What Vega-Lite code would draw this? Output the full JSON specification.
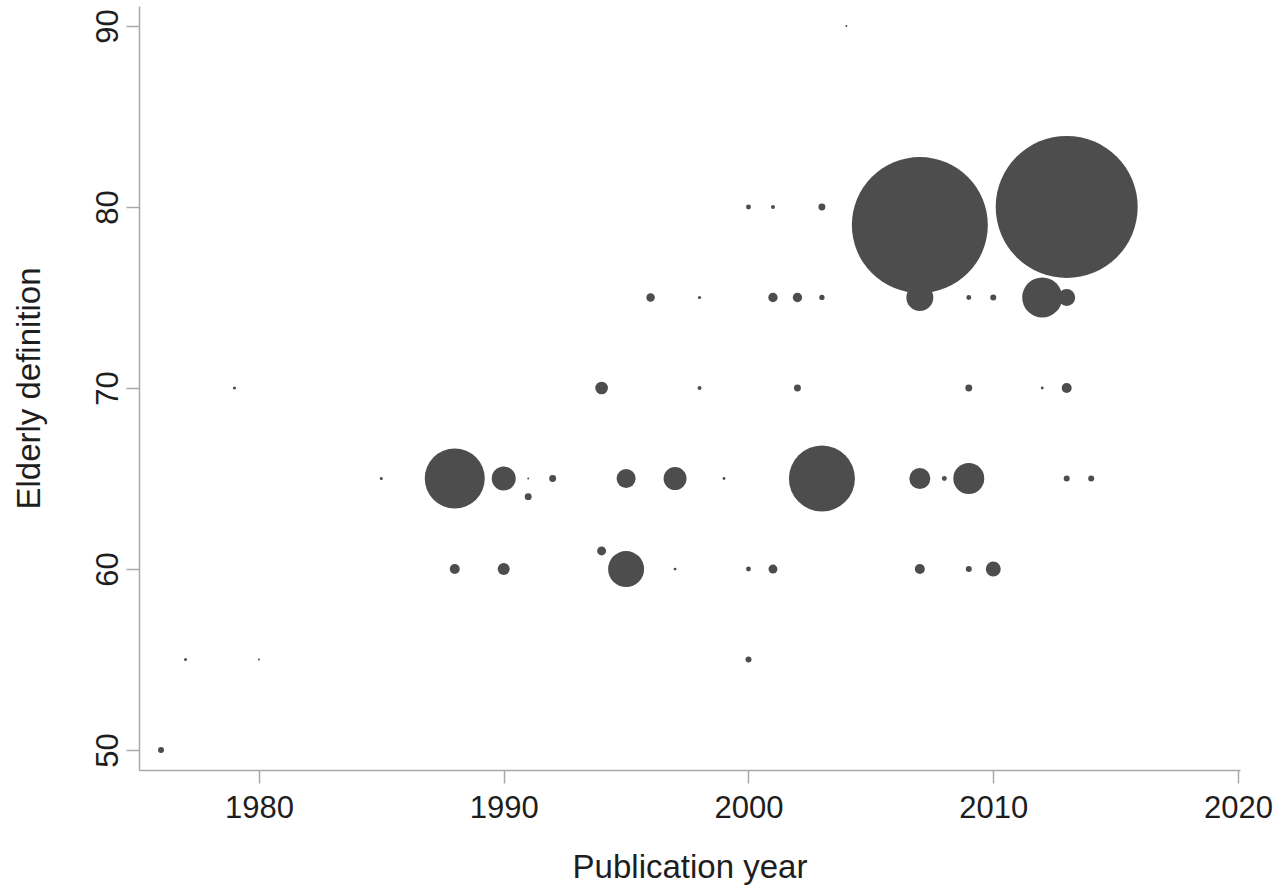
{
  "$schema": "https://vega.github.io/schema/vega-lite/v6.json",
  "autosize": {"type": "none"},
  "width": 1101,
  "height": 764,
  "padding": {"left": 139, "top": 6, "right": 41, "bottom": 116},
  "background": "white",
  "config": {
    "view": {"stroke": null},
    "font": "Liberation Sans",
    "axis": {
      "grid": false,
      "domainColor": "#a8a8a8",
      "domainWidth": 1.5,
      "tickColor": "#a8a8a8",
      "tickWidth": 1.5,
      "tickSize": 13,
      "labelFont": "Liberation Sans",
      "labelFontSize": 31,
      "labelColor": "#1e1e1e",
      "titleFont": "Liberation Sans",
      "titleFontSize": 33,
      "titleFontWeight": "normal",
      "titleColor": "#1e1e1e"
    }
  },
  "data": {
    "values": [
      {"year": 1976, "def": 50, "w": 9},
      {"year": 1977, "def": 55, "w": 2.25},
      {"year": 1980, "def": 55, "w": 1},
      {"year": 1979, "def": 70, "w": 2.5},
      {"year": 1985, "def": 65, "w": 2.5},
      {"year": 1988, "def": 65, "w": 900},
      {"year": 1988, "def": 60, "w": 25},
      {"year": 1990, "def": 65, "w": 144},
      {"year": 1990, "def": 60, "w": 36},
      {"year": 1991, "def": 65, "w": 1},
      {"year": 1991, "def": 64, "w": 12},
      {"year": 1992, "def": 65, "w": 12},
      {"year": 1994, "def": 70, "w": 40},
      {"year": 1994, "def": 61, "w": 20},
      {"year": 1995, "def": 65, "w": 90},
      {"year": 1995, "def": 60, "w": 324},
      {"year": 1996, "def": 75, "w": 18},
      {"year": 1997, "def": 65, "w": 132},
      {"year": 1997, "def": 60, "w": 2},
      {"year": 1998, "def": 75, "w": 2.5},
      {"year": 1998, "def": 70, "w": 4},
      {"year": 1999, "def": 65, "w": 2},
      {"year": 2000, "def": 80, "w": 6},
      {"year": 2000, "def": 60, "w": 6},
      {"year": 2000, "def": 55, "w": 9},
      {"year": 2001, "def": 80, "w": 4},
      {"year": 2001, "def": 75, "w": 22},
      {"year": 2001, "def": 60, "w": 20},
      {"year": 2002, "def": 75, "w": 22},
      {"year": 2002, "def": 70, "w": 12},
      {"year": 2003, "def": 80, "w": 12},
      {"year": 2003, "def": 75, "w": 7},
      {"year": 2003, "def": 65, "w": 1090},
      {"year": 2004, "def": 90, "w": 1},
      {"year": 2007, "def": 79, "w": 4620},
      {"year": 2007, "def": 75, "w": 182},
      {"year": 2007, "def": 65, "w": 110},
      {"year": 2007, "def": 60, "w": 25},
      {"year": 2008, "def": 65, "w": 6},
      {"year": 2009, "def": 75, "w": 6},
      {"year": 2009, "def": 70, "w": 12},
      {"year": 2009, "def": 65, "w": 240},
      {"year": 2009, "def": 60, "w": 9},
      {"year": 2010, "def": 75, "w": 9},
      {"year": 2010, "def": 60, "w": 56},
      {"year": 2012, "def": 75, "w": 400},
      {"year": 2012, "def": 70, "w": 2},
      {"year": 2013, "def": 80, "w": 5040},
      {"year": 2013, "def": 75, "w": 72},
      {"year": 2013, "def": 70, "w": 25},
      {"year": 2013, "def": 65, "w": 9},
      {"year": 2014, "def": 65, "w": 9}
    ]
  },
  "mark": {"type": "point", "shape": "circle", "filled": true, "color": "#4d4d4d", "opacity": 1, "strokeWidth": 0},
  "encoding": {
    "x": {
      "field": "year", "type": "quantitative",
      "scale": {"domain": [1975.1, 2020.08], "nice": false, "zero": false},
      "axis": {"values": [1980, 1990, 2000, 2010, 2020], "format": "d", "title": "Publication year", "labelPadding": 10, "titlePadding": 28}
    },
    "y": {
      "field": "def", "type": "quantitative",
      "scale": {"domain": [48.9, 91.1], "nice": false, "zero": false},
      "axis": {"values": [50, 60, 70, 80, 90], "format": "d", "title": "Elderly definition", "labelAngle": -90, "labelBaseline": "alphabetic", "labelPadding": 9, "titlePadding": 46}
    },
    "size": {
      "field": "w", "type": "quantitative",
      "scale": {"type": "linear", "domain": [0, 5000], "range": [0, 20000], "zero": true},
      "legend": null
    }
  }
}
